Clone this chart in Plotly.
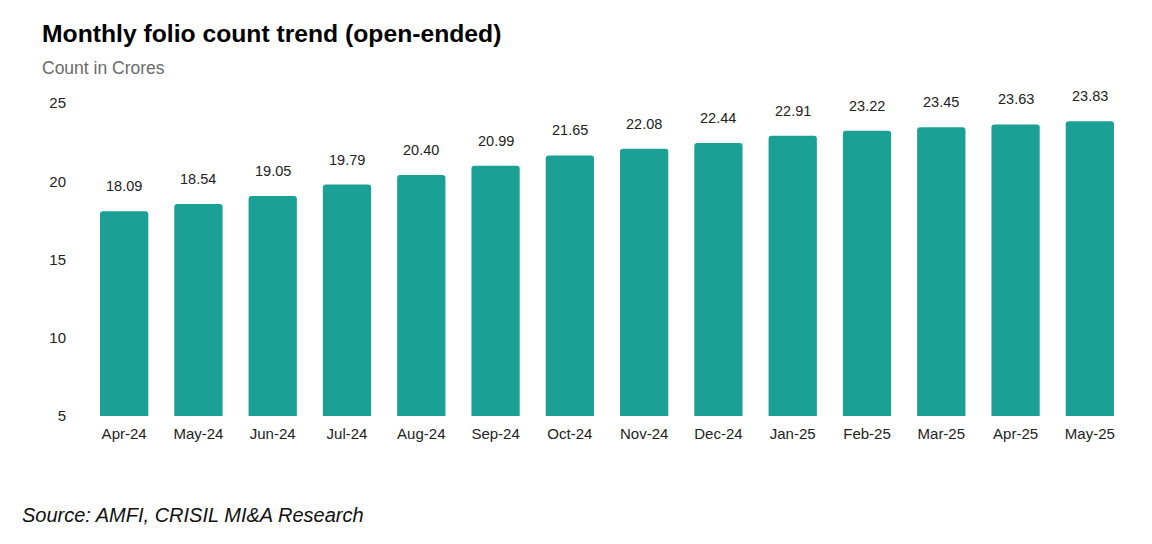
import plotly.graph_objects as go

months = ['Apr-24', 'May-24', 'Jun-24', 'Jul-24', 'Aug-24', 'Sep-24', 'Oct-24',
          'Nov-24', 'Dec-24', 'Jan-25', 'Feb-25', 'Mar-25', 'Apr-25', 'May-25']
folios = [18.09, 18.54, 19.05, 19.79, 20.40, 20.99, 21.65,
          22.08, 22.44, 22.91, 23.22, 23.45, 23.63, 23.83]
y_ticks = [5, 10, 15, 20, 25]

bar_color = '#1ba096'
font_name = 'Liberation Sans, Arial, sans-serif'

fig = go.Figure()

fig.add_trace(go.Bar(
    x=months,
    y=folios,
    marker=dict(color=bar_color, line_width=0, cornerradius=3),
    hoverinfo='x+y',
))

# value labels sit a bit above each bar
annotations = []
for m, v in zip(months, folios):
    annotations.append(dict(
        x=m, y=v, xref='x', yref='y',
        text='%.2f' % v,
        showarrow=False,
        yanchor='bottom',
        yshift=15,
        font=dict(family=font_name, size=14.5, color='#222222'),
    ))

annotations += [
    dict(text='<b>Monthly folio count trend (open-ended)</b>',
         xref='paper', yref='paper', x=0, y=1.0, xanchor='left', yanchor='middle',
         xshift=-47, yshift=70, showarrow=False,
         font=dict(family=font_name, size=24.7, color='#000000')),
    dict(text='Count in Crores',
         xref='paper', yref='paper', x=0, y=1.0, xanchor='left', yanchor='middle',
         xshift=-47, yshift=35, showarrow=False,
         font=dict(family=font_name, size=17.5, color='#6b6b6b')),
    dict(text='<i>Source: AMFI, CRISIL MI&A Research</i>',
         xref='paper', yref='paper', x=0, y=0, xanchor='left', yanchor='middle',
         xshift=-67, yshift=-99, showarrow=False,
         font=dict(family=font_name, size=20, color='#111111')),
]

# page body has an 8px margin, so the figure is sized to fill the rest
fig.update_layout(
    width=1144, height=536,
    margin=dict(l=79, r=25, t=95, b=128),
    paper_bgcolor='white',
    plot_bgcolor='white',
    bargap=0.35,
    showlegend=False,
    annotations=annotations,
    xaxis=dict(
        showgrid=False, showline=False, zeroline=False, ticks='',
        ticklabelstandoff=7,
        tickfont=dict(family=font_name, size=15, color='#222222'),
    ),
    yaxis=dict(
        range=[5, 25], tickvals=y_ticks,
        showgrid=False, showline=False, zeroline=False, ticks='',
        ticklabelstandoff=20,
        tickfont=dict(family=font_name, size=15, color='#222222'),
    ),
)

fig.write_html("out.html")
